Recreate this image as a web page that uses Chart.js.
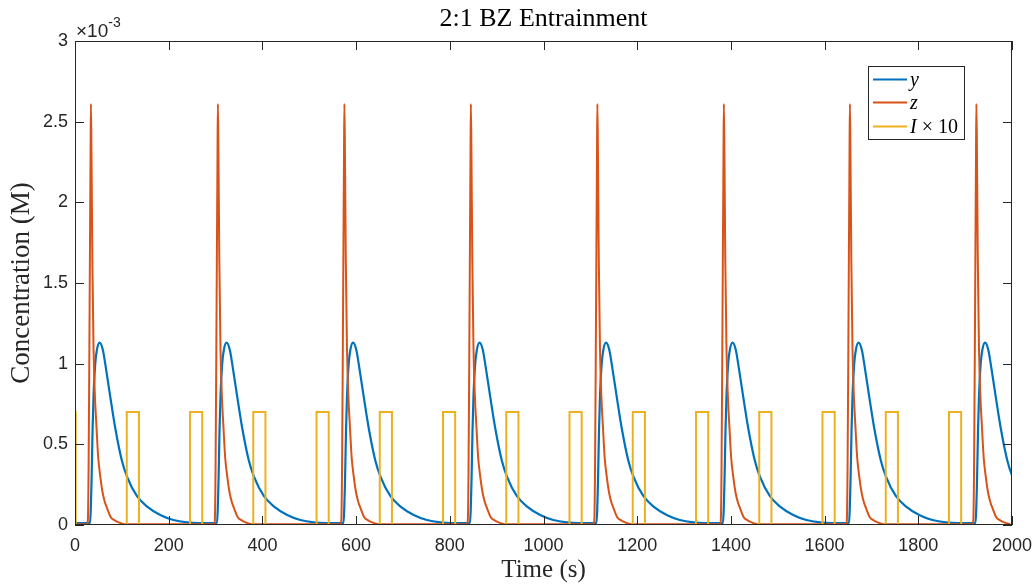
<!DOCTYPE html>
<html>
<head>
<meta charset="utf-8">
<script src="https://cdn.jsdelivr.net/npm/chart.js@4.4.1/dist/chart.umd.min.js"></script>
<style>
  html, body { margin: 0; padding: 0; background: #fff; }
  #wrap { width: 1035px; height: 584px; position: relative; }
</style>
</head>
<body>
<div id="wrap"><canvas id="bz"></canvas></div>
<script>
// values in units of 1e-3 M (axis shows x10^-3)
var spikeTimes = [34, 305, 575, 845, 1115, 1385, 1654, 1924];

// z spike, offsets (s) from each spike peak
var zOffsets = [-8, -6.5, -5, -3.5, -2, -0.8, 0, 1.2, 3, 5.5, 8.5, 12, 15.5, 20, 25, 30, 35, 42, 50, 58, 72];
var zValues  = [0.005, 0.03, 0.35, 1.0, 1.75, 2.3, 2.61, 2.3, 1.65, 1.1, 0.8, 0.6, 0.42, 0.3, 0.2, 0.14, 0.1, 0.05, 0.03, 0.018, 0.005];

// y wave, offsets (s) from each spike peak
var yOffsets = [-2, 1.4, 3.5, 5.6, 9.2, 12.7, 18.5, 25.5, 30.5, 41, 52, 66, 77, 98, 120, 148, 176, 205, 230];
var yValues  = [0.012, 0.28, 0.59, 0.8, 1.0, 1.085, 1.13, 1.085, 1.0, 0.8, 0.6, 0.4, 0.3, 0.18, 0.114, 0.062, 0.031, 0.016, 0.012];

// light pulses (I x 10)
var pulseStarts = [-24.5, 110.5, 245.5, 380.5, 515.5, 650.5, 785.5, 920.5, 1055.5, 1190.5, 1325.5, 1460.5, 1595.5, 1730.5, 1865.5];
var pulseEnds   = [1.5, 136.5, 271.5, 406.5, 541.5, 676.5, 811.5, 946.5, 1081.5, 1216.5, 1351.5, 1486.5, 1621.5, 1756.5, 1891.5];
var pulseLevel = 0.7;

var xTicks = [0, 200, 400, 600, 800, 1000, 1200, 1400, 1600, 1800, 2000];
var yTicks = [0, 0.5, 1, 1.5, 2, 2.5, 3];

function cyclePoints(offsets, values, startVal) {
    var pts = [{ x: 0, y: startVal }];
    spikeTimes.forEach(function(t) {
        offsets.forEach(function(o, i) { pts.push({ x: t + o, y: values[i] }); });
    });
    return pts;
}

var pulsePts = [];
pulseStarts.forEach(function(s, i) {
    pulsePts.push({ x: s, y: 0 }, { x: s, y: pulseLevel }, { x: pulseEnds[i], y: pulseLevel }, { x: pulseEnds[i], y: 0 });
});
pulsePts.push({ x: 2000, y: 0 });

var INK = '#262626';
var colors = { y: '#0072BD', z: '#D95319', I: '#EDB120' };

var decor = {
    id: 'decor',
    afterDraw: function(chart) {
        var ctx = chart.ctx, a = chart.chartArea, xs = chart.scales.x, ys = chart.scales.y;
        ctx.save();
        ctx.strokeStyle = INK;
        ctx.lineWidth = 1;
        ctx.beginPath();
        xs.ticks.forEach(function(t) {
            var px = Math.round(xs.getPixelForValue(t.value)) + 0.5;
            ctx.moveTo(px, a.bottom); ctx.lineTo(px, a.bottom - 9);
            ctx.moveTo(px, a.top); ctx.lineTo(px, a.top + 9);
        });
        ys.ticks.forEach(function(t) {
            var py = Math.round(ys.getPixelForValue(t.value)) + 0.5;
            ctx.moveTo(a.left, py); ctx.lineTo(a.left + 9, py);
            ctx.moveTo(a.right, py); ctx.lineTo(a.right - 9, py);
        });
        ctx.stroke();
        ctx.strokeRect(a.left + 0.5, a.top + 0.5, a.right - a.left - 1, a.bottom - a.top - 1);

        // title and axis labels
        var cx = (a.left + a.right) / 2;
        ctx.textAlign = 'center';
        ctx.textBaseline = 'alphabetic';
        ctx.fillStyle = '#000';
        ctx.font = '26px "Liberation Serif"';
        ctx.fillText('2:1 BZ Entrainment', cx, 26);
        ctx.fillStyle = INK;
        ctx.font = '25px "Liberation Serif"';
        ctx.fillText('Time (s)', cx, 577);
        ctx.save();
        ctx.translate(29, (a.top + a.bottom) / 2);
        ctx.rotate(-Math.PI / 2);
        ctx.font = '27px "Liberation Serif"';
        ctx.fillText('Concentration (M)', 0, 0);
        ctx.restore();

        // exponent
        ctx.textAlign = 'left';
        ctx.font = '19px "Liberation Sans"';
        ctx.fillText('\u00d710', 76, 37);
        var w = ctx.measureText('\u00d710').width;
        ctx.font = '14px "Liberation Sans"';
        ctx.fillText('-3', 76 + w, 27);

        // legend
        var lx = 868, ly = 66, lw = 96, lh = 73;
        ctx.fillStyle = '#fff';
        ctx.fillRect(lx, ly, lw, lh);
        ctx.strokeStyle = INK;
        ctx.strokeRect(lx + 0.5, ly + 0.5, lw, lh);
        var rows = [
            { c: colors.y, parts: [['y', true]] },
            { c: colors.z, parts: [['z', true]] },
            { c: colors.I, parts: [['I', true], [' \u00d7 10', false]] }
        ];
        var rowY = [79.5, 102.5, 126.5];
        rows.forEach(function(r, i) {
            ctx.strokeStyle = r.c;
            ctx.lineWidth = 2;
            ctx.beginPath();
            ctx.moveTo(873, rowY[i]); ctx.lineTo(907, rowY[i]);
            ctx.stroke();
            var tx = 910;
            ctx.fillStyle = '#000';
            r.parts.forEach(function(p) {
                ctx.font = (p[1] ? 'italic ' : '') + '20px "Liberation Serif"';
                ctx.fillText(p[0], tx, rowY[i] + 6);
                tx += ctx.measureText(p[0]).width;
            });
        });
        ctx.restore();
    }
};

new Chart(document.getElementById('bz'), {
    type: 'line',
    data: {
        datasets: [
            { label: 'y', data: cyclePoints(yOffsets, yValues, 0.012), borderColor: colors.y, borderWidth: 2.2, pointRadius: 0, cubicInterpolationMode: 'monotone', order: 2 },
            { label: 'z', data: cyclePoints(zOffsets, zValues, 0.005), borderColor: colors.z, borderWidth: 2, pointRadius: 0, cubicInterpolationMode: 'monotone', order: 1 },
            { label: 'I x 10', data: pulsePts, borderColor: colors.I, borderWidth: 2, pointRadius: 0, tension: 0, order: 0 }
        ]
    },
    options: {
        responsive: true,
        maintainAspectRatio: false,
        animation: false,
        events: [],
        layout: { padding: { top: 41, right: 23, bottom: 0, left: 0 } },
        plugins: { legend: { display: false }, title: { display: false }, tooltip: { enabled: false } },
        scales: {
            x: {
                type: 'linear', min: 0, max: 2000,
                afterBuildTicks: function(s) { s.ticks = xTicks.map(function(v) { return { value: v }; }); },
                afterFit: function(s) { s.height = 59; },
                grid: { display: false, drawTicks: true, tickLength: 8 },
                border: { display: false },
                ticks: { color: INK, font: { family: 'Liberation Sans', size: 18 }, padding: 2, maxRotation: 0,
                         callback: function(v) { return String(v); } }
            },
            y: {
                type: 'linear', min: 0, max: 3,
                afterBuildTicks: function(s) { s.ticks = yTicks.map(function(v) { return { value: v }; }); },
                afterFit: function(s) { s.width = 75; },
                grid: { display: false, drawTicks: false },
                border: { display: false },
                ticks: { color: INK, font: { family: 'Liberation Sans', size: 18 }, padding: 7,
                         callback: function(v) { return String(v); } }
            }
        }
    },
    plugins: [decor]
});
</script>
</body>
</html>
